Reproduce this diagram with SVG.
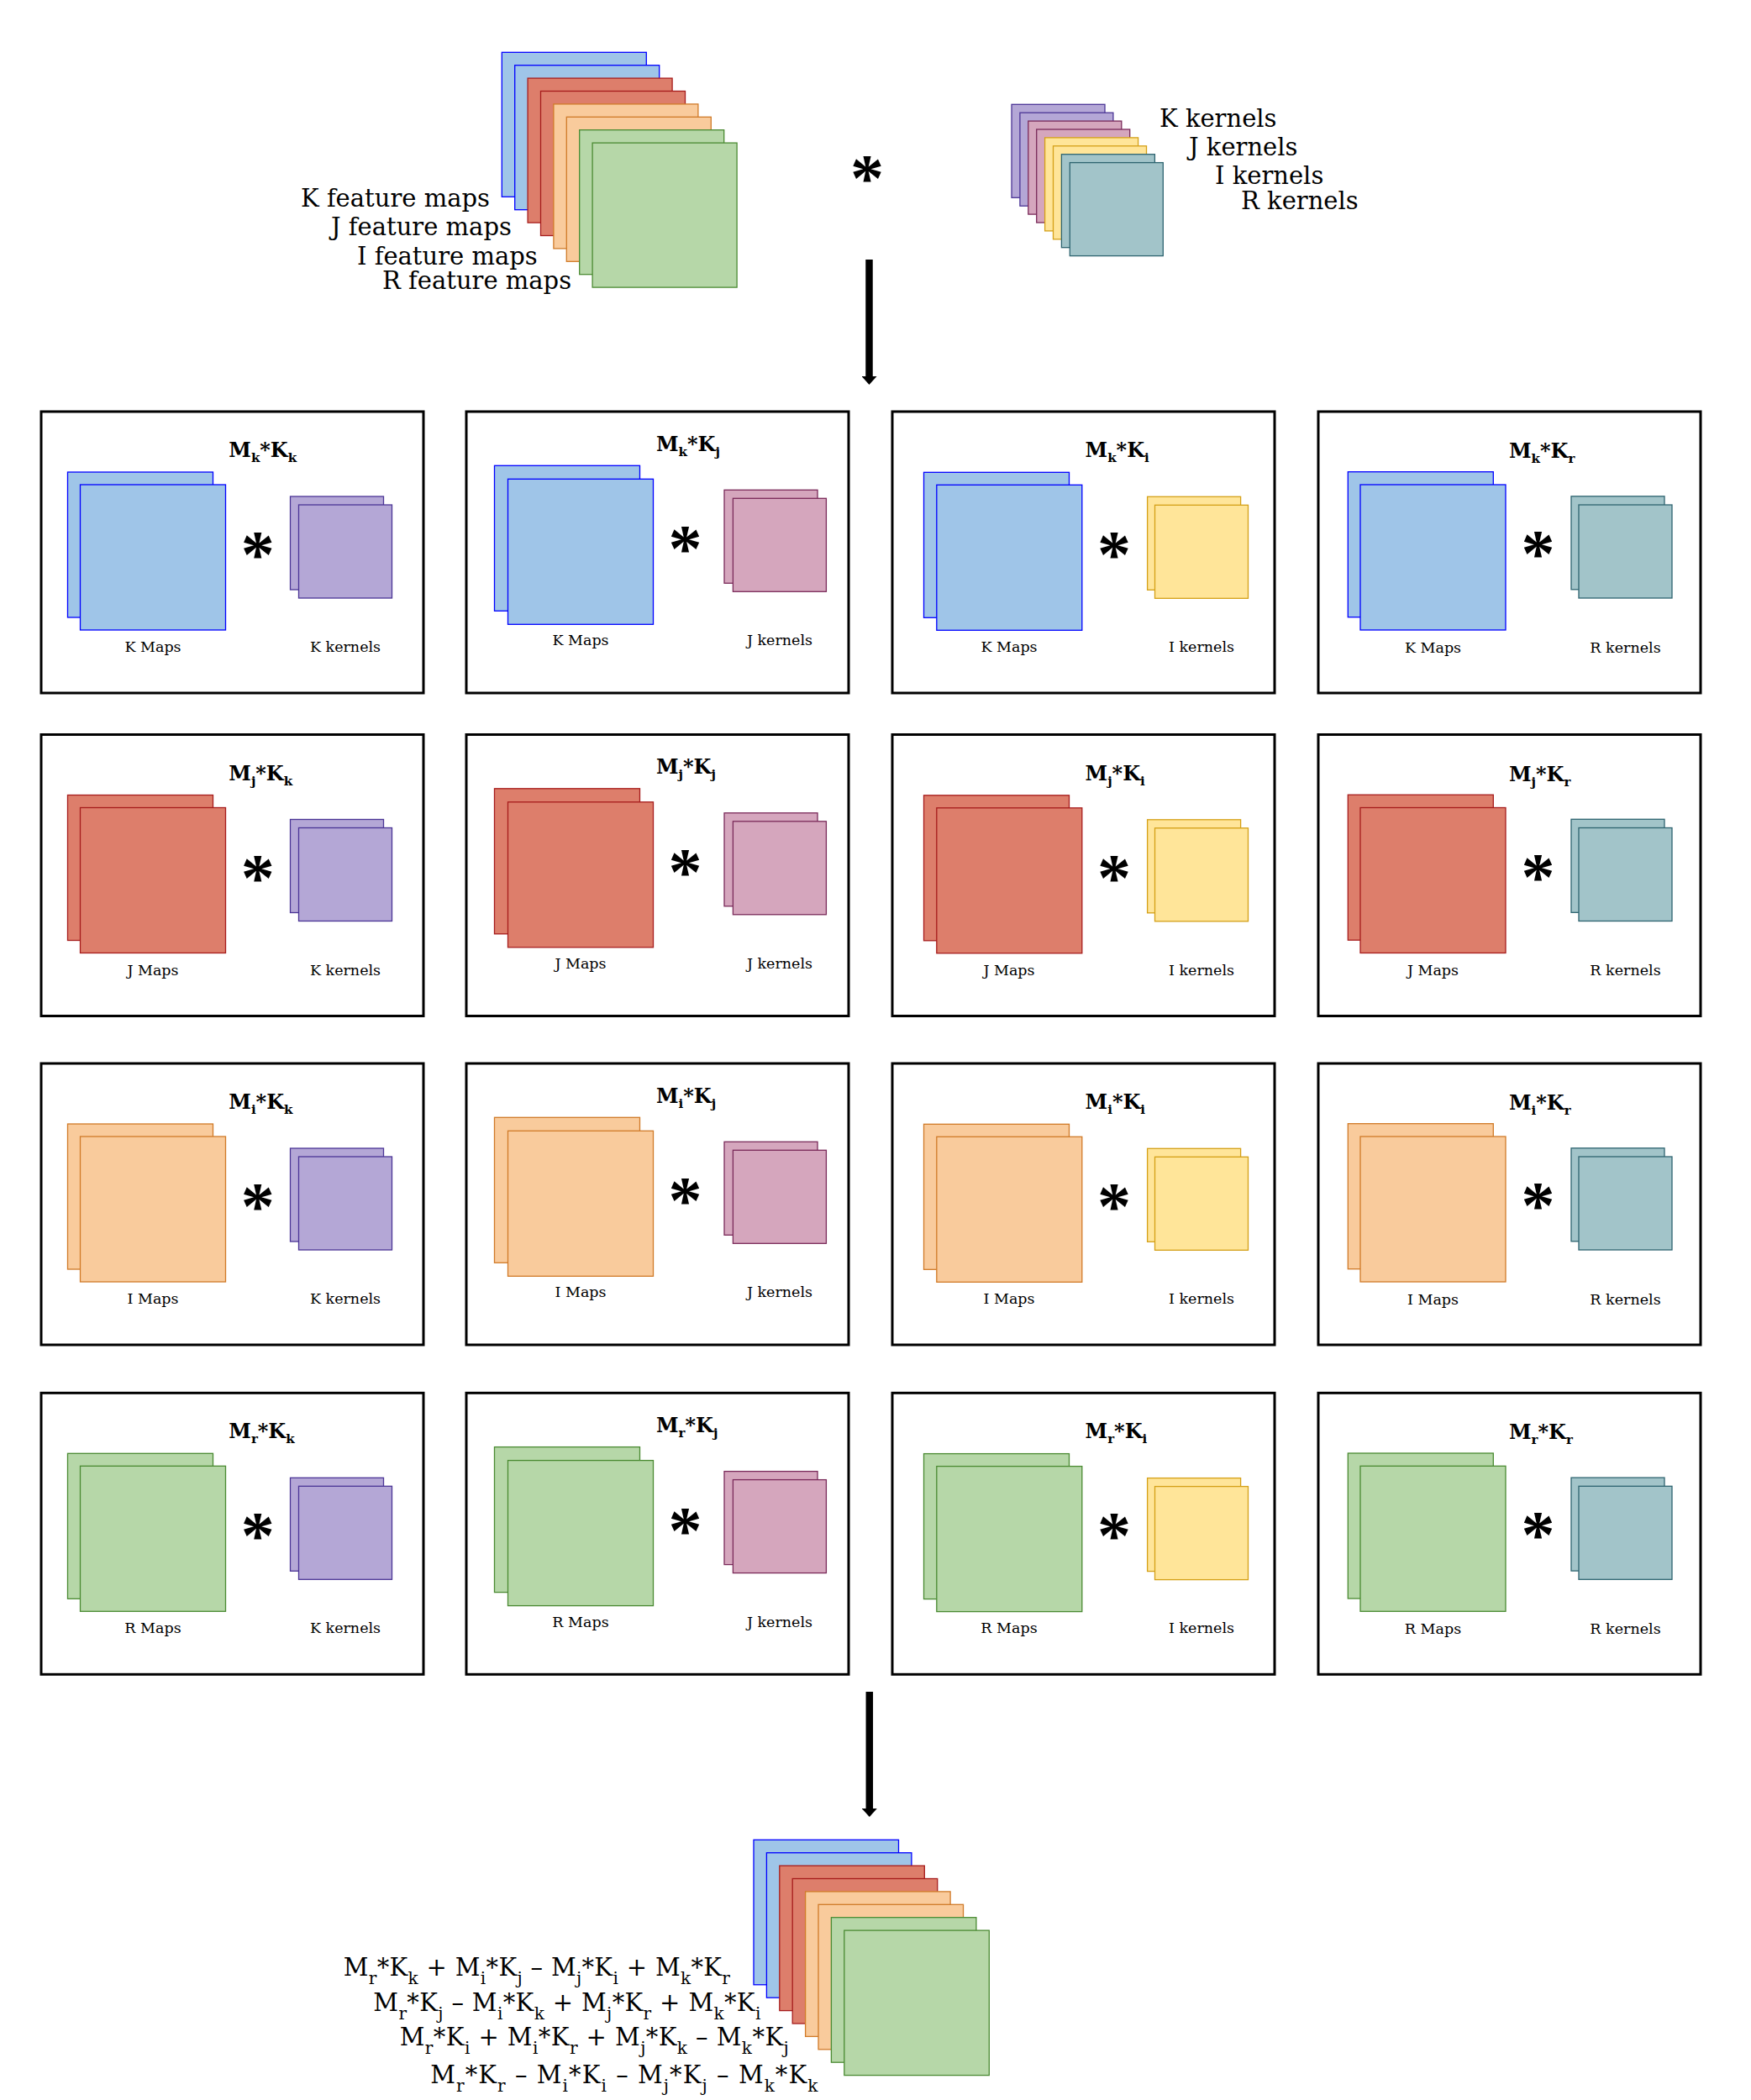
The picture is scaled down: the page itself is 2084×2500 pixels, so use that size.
<svg xmlns="http://www.w3.org/2000/svg" width="2084" height="2500" viewBox="0 0 2084 2500">
<style>
text{font-family:"DejaVu Serif","Liberation Serif",serif;fill:#000}
.lbl{font-size:29px}
.sl{font-size:17.5px;text-anchor:middle}
.ttl{font-size:24px;font-weight:bold}
.ts{font-size:15px}
.fs{font-size:20px}
.ast{font-family:"Liberation Serif",serif;font-weight:bold;font-size:80px;text-anchor:middle}
.panel{fill:#fff;stroke:#000;stroke-width:3}
.b{fill:#9fc5e8;stroke:#0000ff;stroke-width:1.3}
.r{fill:#dd7e6b;stroke:#a61c1c;stroke-width:1.3}
.o{fill:#f9cb9c;stroke:#d07a28;stroke-width:1.3}
.g{fill:#b6d7a8;stroke:#4a8a32;stroke-width:1.3}
.p{fill:#b4a7d6;stroke:#4b3596;stroke-width:1.3}
.m{fill:#d5a6bd;stroke:#7a2a5a;stroke-width:1.3}
.y{fill:#ffe599;stroke:#d4a017;stroke-width:1.3}
.t{fill:#a2c4c9;stroke:#2e6470;stroke-width:1.3}
.conn{stroke:#000;stroke-width:8.5;fill:none}
</style>
<defs>
<marker id="ah" markerUnits="userSpaceOnUse" markerWidth="10" markerHeight="18" refX="0" refY="9" orient="auto" viewBox="0 0 10 18">
<path d="M0,0 L10,9 L0,18 Z" fill="#000"/>
</marker>
</defs>
<rect width="2084" height="2500" fill="#fff"/>

<g id="input-maps">
<rect class="b" x="597.3" y="62.3" width="172" height="172"/>
<rect class="b" x="612.7" y="77.7" width="172" height="172"/>
<rect class="r" x="628.1" y="93.1" width="172" height="172"/>
<rect class="r" x="643.5" y="108.5" width="172" height="172"/>
<rect class="o" x="658.9" y="123.9" width="172" height="172"/>
<rect class="o" x="674.3" y="139.3" width="172" height="172"/>
<rect class="g" x="689.7" y="154.7" width="172" height="172"/>
<rect class="g" x="705.1" y="170.1" width="172" height="172"/>
<text class="lbl" x="358" y="246">K feature maps</text>
<text class="lbl" x="394" y="280">J feature maps</text>
<text class="lbl" x="425" y="315">I feature maps</text>
<text class="lbl" x="455" y="344">R feature maps</text>
</g>

<g id="conv-op">
<text class="ast" x="1032" y="239">*</text>
</g>

<g id="input-kernels">
<rect class="p" x="1204" y="124.3" width="111" height="111"/>
<rect class="p" x="1213.9" y="134.2" width="111" height="111"/>
<rect class="m" x="1223.8" y="144.1" width="111" height="111"/>
<rect class="m" x="1233.7" y="154" width="111" height="111"/>
<rect class="y" x="1243.6" y="163.9" width="111" height="111"/>
<rect class="y" x="1253.5" y="173.8" width="111" height="111"/>
<rect class="t" x="1263.4" y="183.7" width="111" height="111"/>
<rect class="t" x="1273.3" y="193.6" width="111" height="111"/>
<text class="lbl" x="1380" y="151">K kernels</text>
<text class="lbl" x="1415" y="185">J kernels</text>
<text class="lbl" x="1446" y="219">I kernels</text>
<text class="lbl" x="1477" y="249">R kernels</text>
</g>

<g id="connectors">
<line class="conn" x1="1034.5" y1="309" x2="1034.5" y2="448" marker-end="url(#ah)"/>
<line class="conn" x1="1034.8" y1="2014" x2="1034.8" y2="2153" marker-end="url(#ah)"/>
</g>

<!-- Row 1 -->
<g id="p-k-k">
<rect class="panel" x="49" y="490" width="455" height="335"/>
<rect class="b" x="80.5" y="562" width="173" height="173"/><rect class="b" x="95.5" y="577" width="173" height="173"/>
<rect class="p" x="345.5" y="591" width="111" height="111"/><rect class="p" x="355.5" y="601" width="111" height="111"/>
<text class="ast" x="306.7" y="687">*</text>
<text class="ttl" x="272.3" y="544">M<tspan class="ts" dy="6">k</tspan><tspan dy="-6">*K</tspan><tspan class="ts" dy="6">k</tspan></text>
<text class="sl" x="182" y="776">K Maps</text><text class="sl" x="411" y="776">K kernels</text>
</g>
<g id="p-k-j">
<rect class="panel" x="555" y="490" width="455" height="335"/>
<rect class="b" x="588.5" y="554.3" width="173" height="173"/><rect class="b" x="604.5" y="570.3" width="173" height="173"/>
<rect class="m" x="862" y="583.3" width="111" height="111"/><rect class="m" x="872.4" y="593.3" width="111" height="111"/>
<text class="ast" x="815.6" y="680.3">*</text>
<text class="ttl" x="781" y="536.7">M<tspan class="ts" dy="6">k</tspan><tspan dy="-6">*K</tspan><tspan class="ts" dy="6">j</tspan></text>
<text class="sl" x="691" y="768.3">K Maps</text><text class="sl" x="928" y="768.3">J kernels</text>
</g>
<g id="p-k-i">
<rect class="panel" x="1062" y="490" width="455" height="335"/>
<rect class="b" x="1099.5" y="562.3" width="173" height="173"/><rect class="b" x="1114.8" y="577.3" width="173" height="173"/>
<rect class="y" x="1365.6" y="591.3" width="111" height="111"/><rect class="y" x="1374.5" y="601.3" width="111" height="111"/>
<text class="ast" x="1326" y="687">*</text>
<text class="ttl" x="1291.6" y="544">M<tspan class="ts" dy="6">k</tspan><tspan dy="-6">*K</tspan><tspan class="ts" dy="6">i</tspan></text>
<text class="sl" x="1201" y="776">K Maps</text><text class="sl" x="1430" y="776">I kernels</text>
</g>
<g id="p-k-r">
<rect class="panel" x="1569" y="490" width="455" height="335"/>
<rect class="b" x="1604.3" y="561.7" width="173" height="173"/><rect class="b" x="1619" y="577" width="173" height="173"/>
<rect class="t" x="1870" y="590.8" width="111" height="111"/><rect class="t" x="1879" y="601" width="111" height="111"/>
<text class="ast" x="1830.6" y="686">*</text>
<text class="ttl" x="1796" y="545">M<tspan class="ts" dy="6">k</tspan><tspan dy="-6">*K</tspan><tspan class="ts" dy="6">r</tspan></text>
<text class="sl" x="1705.5" y="776.5">K Maps</text><text class="sl" x="1934.5" y="776.5">R kernels</text>
</g>

<!-- Row 2 -->
<g id="p-j-k">
<rect class="panel" x="49" y="874.5" width="455" height="335"/>
<rect class="r" x="80.5" y="946.5" width="173" height="173"/><rect class="r" x="95.5" y="961.5" width="173" height="173"/>
<rect class="p" x="345.5" y="975.5" width="111" height="111"/><rect class="p" x="355.5" y="985.5" width="111" height="111"/>
<text class="ast" x="306.7" y="1071.5">*</text>
<text class="ttl" x="272.3" y="928.5">M<tspan class="ts" dy="6">j</tspan><tspan dy="-6">*K</tspan><tspan class="ts" dy="6">k</tspan></text>
<text class="sl" x="182" y="1160.5">J Maps</text><text class="sl" x="411" y="1160.5">K kernels</text>
</g>
<g id="p-j-j">
<rect class="panel" x="555" y="874.5" width="455" height="335"/>
<rect class="r" x="588.5" y="938.8" width="173" height="173"/><rect class="r" x="604.5" y="954.8" width="173" height="173"/>
<rect class="m" x="862" y="967.8" width="111" height="111"/><rect class="m" x="872.4" y="977.8" width="111" height="111"/>
<text class="ast" x="815.6" y="1064.8">*</text>
<text class="ttl" x="781" y="921.2">M<tspan class="ts" dy="6">j</tspan><tspan dy="-6">*K</tspan><tspan class="ts" dy="6">j</tspan></text>
<text class="sl" x="691" y="1152.8">J Maps</text><text class="sl" x="928" y="1152.8">J kernels</text>
</g>
<g id="p-j-i">
<rect class="panel" x="1062" y="874.5" width="455" height="335"/>
<rect class="r" x="1099.5" y="946.8" width="173" height="173"/><rect class="r" x="1114.8" y="961.8" width="173" height="173"/>
<rect class="y" x="1365.6" y="975.8" width="111" height="111"/><rect class="y" x="1374.5" y="985.8" width="111" height="111"/>
<text class="ast" x="1326" y="1071.5">*</text>
<text class="ttl" x="1291.6" y="928.5">M<tspan class="ts" dy="6">j</tspan><tspan dy="-6">*K</tspan><tspan class="ts" dy="6">i</tspan></text>
<text class="sl" x="1201" y="1160.5">J Maps</text><text class="sl" x="1430" y="1160.5">I kernels</text>
</g>
<g id="p-j-r">
<rect class="panel" x="1569" y="874.5" width="455" height="335"/>
<rect class="r" x="1604.3" y="946.2" width="173" height="173"/><rect class="r" x="1619" y="961.5" width="173" height="173"/>
<rect class="t" x="1870" y="975.3" width="111" height="111"/><rect class="t" x="1879" y="985.5" width="111" height="111"/>
<text class="ast" x="1830.6" y="1070.5">*</text>
<text class="ttl" x="1796" y="929.5">M<tspan class="ts" dy="6">j</tspan><tspan dy="-6">*K</tspan><tspan class="ts" dy="6">r</tspan></text>
<text class="sl" x="1705.5" y="1161">J Maps</text><text class="sl" x="1934.5" y="1161">R kernels</text>
</g>

<!-- Row 3 -->
<g id="p-i-k">
<rect class="panel" x="49" y="1266" width="455" height="335"/>
<rect class="o" x="80.5" y="1338" width="173" height="173"/><rect class="o" x="95.5" y="1353" width="173" height="173"/>
<rect class="p" x="345.5" y="1367" width="111" height="111"/><rect class="p" x="355.5" y="1377" width="111" height="111"/>
<text class="ast" x="306.7" y="1463">*</text>
<text class="ttl" x="272.3" y="1320">M<tspan class="ts" dy="6">i</tspan><tspan dy="-6">*K</tspan><tspan class="ts" dy="6">k</tspan></text>
<text class="sl" x="182" y="1552">I Maps</text><text class="sl" x="411" y="1552">K kernels</text>
</g>
<g id="p-i-j">
<rect class="panel" x="555" y="1266" width="455" height="335"/>
<rect class="o" x="588.5" y="1330.3" width="173" height="173"/><rect class="o" x="604.5" y="1346.3" width="173" height="173"/>
<rect class="m" x="862" y="1359.3" width="111" height="111"/><rect class="m" x="872.4" y="1369.3" width="111" height="111"/>
<text class="ast" x="815.6" y="1456.3">*</text>
<text class="ttl" x="781" y="1312.7">M<tspan class="ts" dy="6">i</tspan><tspan dy="-6">*K</tspan><tspan class="ts" dy="6">j</tspan></text>
<text class="sl" x="691" y="1544.3">I Maps</text><text class="sl" x="928" y="1544.3">J kernels</text>
</g>
<g id="p-i-i">
<rect class="panel" x="1062" y="1266" width="455" height="335"/>
<rect class="o" x="1099.5" y="1338.3" width="173" height="173"/><rect class="o" x="1114.8" y="1353.3" width="173" height="173"/>
<rect class="y" x="1365.6" y="1367.3" width="111" height="111"/><rect class="y" x="1374.5" y="1377.3" width="111" height="111"/>
<text class="ast" x="1326" y="1463">*</text>
<text class="ttl" x="1291.6" y="1320">M<tspan class="ts" dy="6">i</tspan><tspan dy="-6">*K</tspan><tspan class="ts" dy="6">i</tspan></text>
<text class="sl" x="1201" y="1552">I Maps</text><text class="sl" x="1430" y="1552">I kernels</text>
</g>
<g id="p-i-r">
<rect class="panel" x="1569" y="1266" width="455" height="335"/>
<rect class="o" x="1604.3" y="1337.7" width="173" height="173"/><rect class="o" x="1619" y="1353" width="173" height="173"/>
<rect class="t" x="1870" y="1366.8" width="111" height="111"/><rect class="t" x="1879" y="1377" width="111" height="111"/>
<text class="ast" x="1830.6" y="1462">*</text>
<text class="ttl" x="1796" y="1321">M<tspan class="ts" dy="6">i</tspan><tspan dy="-6">*K</tspan><tspan class="ts" dy="6">r</tspan></text>
<text class="sl" x="1705.5" y="1552.5">I Maps</text><text class="sl" x="1934.5" y="1552.5">R kernels</text>
</g>

<!-- Row 4 -->
<g id="p-r-k">
<rect class="panel" x="49" y="1658.3" width="455" height="335"/>
<rect class="g" x="80.5" y="1730.3" width="173" height="173"/><rect class="g" x="95.5" y="1745.3" width="173" height="173"/>
<rect class="p" x="345.5" y="1759.3" width="111" height="111"/><rect class="p" x="355.5" y="1769.3" width="111" height="111"/>
<text class="ast" x="306.7" y="1855.3">*</text>
<text class="ttl" x="272.3" y="1712.3">M<tspan class="ts" dy="6">r</tspan><tspan dy="-6">*K</tspan><tspan class="ts" dy="6">k</tspan></text>
<text class="sl" x="182" y="1944.3">R Maps</text><text class="sl" x="411" y="1944.3">K kernels</text>
</g>
<g id="p-r-j">
<rect class="panel" x="555" y="1658.3" width="455" height="335"/>
<rect class="g" x="588.5" y="1722.6" width="173" height="173"/><rect class="g" x="604.5" y="1738.6" width="173" height="173"/>
<rect class="m" x="862" y="1751.6" width="111" height="111"/><rect class="m" x="872.4" y="1761.6" width="111" height="111"/>
<text class="ast" x="815.6" y="1848.6">*</text>
<text class="ttl" x="781" y="1705">M<tspan class="ts" dy="6">r</tspan><tspan dy="-6">*K</tspan><tspan class="ts" dy="6">j</tspan></text>
<text class="sl" x="691" y="1936.6">R Maps</text><text class="sl" x="928" y="1936.6">J kernels</text>
</g>
<g id="p-r-i">
<rect class="panel" x="1062" y="1658.3" width="455" height="335"/>
<rect class="g" x="1099.5" y="1730.6" width="173" height="173"/><rect class="g" x="1114.8" y="1745.6" width="173" height="173"/>
<rect class="y" x="1365.6" y="1759.6" width="111" height="111"/><rect class="y" x="1374.5" y="1769.6" width="111" height="111"/>
<text class="ast" x="1326" y="1855.3">*</text>
<text class="ttl" x="1291.6" y="1712.3">M<tspan class="ts" dy="6">r</tspan><tspan dy="-6">*K</tspan><tspan class="ts" dy="6">i</tspan></text>
<text class="sl" x="1201" y="1944.3">R Maps</text><text class="sl" x="1430" y="1944.3">I kernels</text>
</g>
<g id="p-r-r">
<rect class="panel" x="1569" y="1658.3" width="455" height="335"/>
<rect class="g" x="1604.3" y="1730" width="173" height="173"/><rect class="g" x="1619" y="1745.3" width="173" height="173"/>
<rect class="t" x="1870" y="1759.1" width="111" height="111"/><rect class="t" x="1879" y="1769.3" width="111" height="111"/>
<text class="ast" x="1830.6" y="1854.3">*</text>
<text class="ttl" x="1796" y="1713.3">M<tspan class="ts" dy="6">r</tspan><tspan dy="-6">*K</tspan><tspan class="ts" dy="6">r</tspan></text>
<text class="sl" x="1705.5" y="1944.8">R Maps</text><text class="sl" x="1934.5" y="1944.8">R kernels</text>
</g>

<g id="output-maps">
<rect class="b" x="897" y="2190.3" width="172.5" height="172.5"/>
<rect class="b" x="912.4" y="2205.7" width="172.5" height="172.5"/>
<rect class="r" x="927.8" y="2221.1" width="172.5" height="172.5"/>
<rect class="r" x="943.2" y="2236.5" width="172.5" height="172.5"/>
<rect class="o" x="958.6" y="2251.9" width="172.5" height="172.5"/>
<rect class="o" x="974" y="2267.3" width="172.5" height="172.5"/>
<rect class="g" x="989.4" y="2282.7" width="172.5" height="172.5"/>
<rect class="g" x="1004.8" y="2298.1" width="172.5" height="172.5"/>
<text class="lbl" x="408.8" y="2351.7" textLength="460" lengthAdjust="spacing">M<tspan class="fs" dy="10">r</tspan><tspan dy="-10">*K</tspan><tspan class="fs" dy="10">k</tspan><tspan dy="-10"> + M</tspan><tspan class="fs" dy="10">i</tspan><tspan dy="-10">*K</tspan><tspan class="fs" dy="10">j</tspan><tspan dy="-10"> – M</tspan><tspan class="fs" dy="10">j</tspan><tspan dy="-10">*K</tspan><tspan class="fs" dy="10">i</tspan><tspan dy="-10"> + M</tspan><tspan class="fs" dy="10">k</tspan><tspan dy="-10">*K</tspan><tspan class="fs" dy="10">r</tspan></text>
<text class="lbl" x="444.3" y="2394.3" textLength="461" lengthAdjust="spacing">M<tspan class="fs" dy="10">r</tspan><tspan dy="-10">*K</tspan><tspan class="fs" dy="10">j</tspan><tspan dy="-10"> – M</tspan><tspan class="fs" dy="10">i</tspan><tspan dy="-10">*K</tspan><tspan class="fs" dy="10">k</tspan><tspan dy="-10"> + M</tspan><tspan class="fs" dy="10">j</tspan><tspan dy="-10">*K</tspan><tspan class="fs" dy="10">r</tspan><tspan dy="-10"> + M</tspan><tspan class="fs" dy="10">k</tspan><tspan dy="-10">*K</tspan><tspan class="fs" dy="10">i</tspan></text>
<text class="lbl" x="475.7" y="2435" textLength="463" lengthAdjust="spacing">M<tspan class="fs" dy="10">r</tspan><tspan dy="-10">*K</tspan><tspan class="fs" dy="10">i</tspan><tspan dy="-10"> + M</tspan><tspan class="fs" dy="10">i</tspan><tspan dy="-10">*K</tspan><tspan class="fs" dy="10">r</tspan><tspan dy="-10"> + M</tspan><tspan class="fs" dy="10">j</tspan><tspan dy="-10">*K</tspan><tspan class="fs" dy="10">k</tspan><tspan dy="-10"> – M</tspan><tspan class="fs" dy="10">k</tspan><tspan dy="-10">*K</tspan><tspan class="fs" dy="10">j</tspan></text>
<text class="lbl" x="512.3" y="2480" textLength="461" lengthAdjust="spacing">M<tspan class="fs" dy="10">r</tspan><tspan dy="-10">*K</tspan><tspan class="fs" dy="10">r</tspan><tspan dy="-10"> – M</tspan><tspan class="fs" dy="10">i</tspan><tspan dy="-10">*K</tspan><tspan class="fs" dy="10">i</tspan><tspan dy="-10"> – M</tspan><tspan class="fs" dy="10">j</tspan><tspan dy="-10">*K</tspan><tspan class="fs" dy="10">j</tspan><tspan dy="-10"> – M</tspan><tspan class="fs" dy="10">k</tspan><tspan dy="-10">*K</tspan><tspan class="fs" dy="10">k</tspan></text>
</g>
</svg>
